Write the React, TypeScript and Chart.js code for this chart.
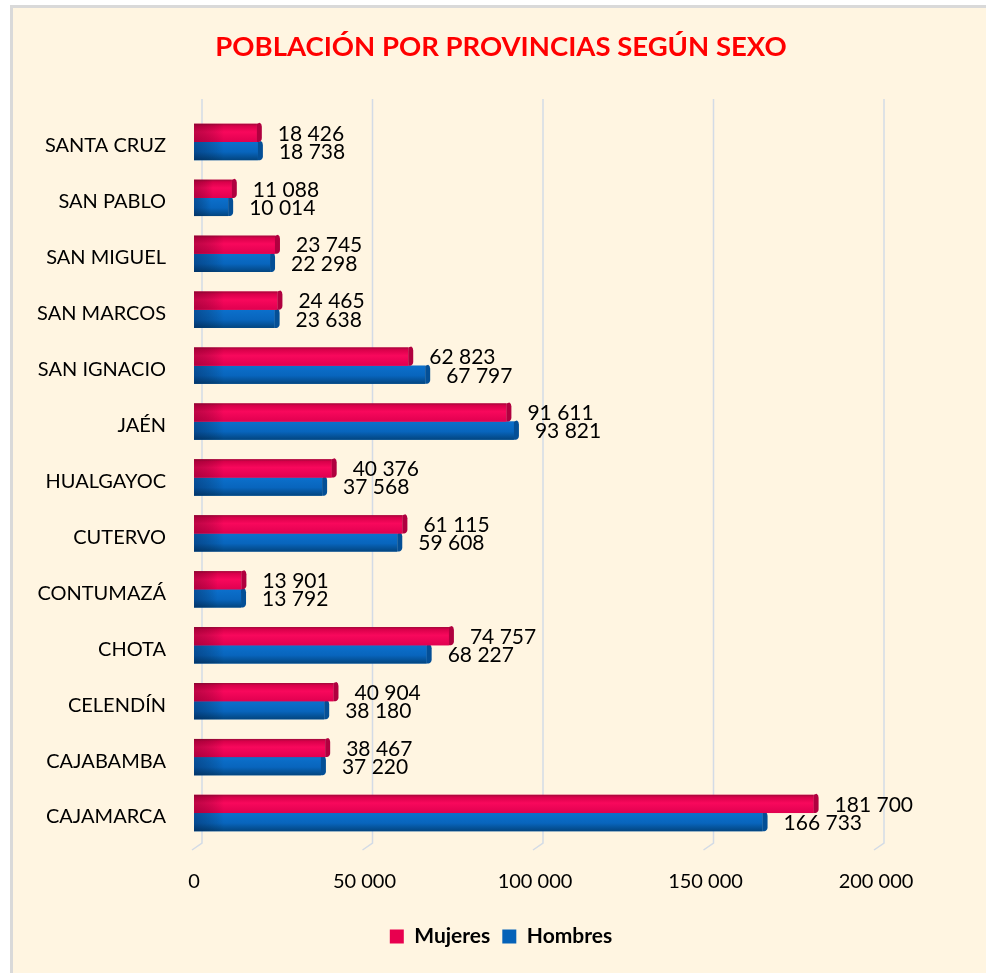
import React, { useEffect, useRef } from "react";
import { Chart, registerables } from "chart.js";

Chart.register(...registerables);

const provinces = [
  "SANTA CRUZ",
  "SAN PABLO",
  "SAN MIGUEL",
  "SAN MARCOS",
  "SAN IGNACIO",
  "JAÉN",
  "HUALGAYOC",
  "CUTERVO",
  "CONTUMAZÁ",
  "CHOTA",
  "CELENDÍN",
  "CAJABAMBA",
  "CAJAMARCA",
];
const mujeres = [18426, 11088, 23745, 24465, 62823, 91611, 40376, 61115, 13901, 74757, 40904, 38467, 181700];
const hombres = [18738, 10014, 22298, 23638, 67797, 93821, 37568, 59608, 13792, 68227, 38180, 37220, 166733];
const xTicks = [0, 50000, 100000, 150000, 200000];
const seriesNames = ["Mujeres", "Hombres"];
const titleText = "POBLACIÓN POR PROVINCIAS SEGÚN SEXO";

const FONT = "Lato, 'Open Sans', sans-serif";

const fmt = (v: number) => String(Math.round(v)).replace(/\B(?=(\d{3})+(?!\d))/g, " ");

const backGrid = {
  id: "backGrid",
  beforeDatasetsDraw(chart: any) {
    const { ctx, chartArea } = chart;
    const xs = chart.scales.x;
    ctx.save();
    ctx.strokeStyle = "#d3dbe6";
    ctx.lineWidth = 1.5;
    xTicks.forEach((v) => {
      const px = xs.getPixelForValue(v) + 8;
      ctx.beginPath();
      ctx.moveTo(px, chartArea.top - 15);
      ctx.lineTo(px, chartArea.bottom + 2);
      ctx.lineTo(px - 10, chartArea.bottom + 9);
      ctx.stroke();
    });
    ctx.restore();
  },
};

const bars3d = {
  id: "bars3d",
  afterDatasetDraw(chart: any, args: any) {
    const { ctx } = chart;
    const kind = args.index;
    ctx.save();
    args.meta.data.forEach((el: any) => {
      const p = el.getProps(["x", "y", "base", "height"], true);
      const left = Math.min(p.base, p.x);
      const right = Math.max(p.base, p.x);
      const top = p.y - p.height / 2;
      const bottom = p.y + p.height / 2;
      const h = bottom - top;
      const g = ctx.createLinearGradient(0, top, 0, bottom);
      if (kind === 0) {
        g.addColorStop(0, "#9e0a3a");
        g.addColorStop(0.12, "#d8004a");
        g.addColorStop(0.45, "#f8085c");
        g.addColorStop(1, "#e00050");
      } else {
        g.addColorStop(0, "#0c70cc");
        g.addColorStop(0.55, "#0865bd");
        g.addColorStop(1, "#03457f");
      }
      ctx.fillStyle = g;
      ctx.fillRect(left, top, right - left, h);
      const w = Math.min(30, (right - left) / 2);
      const lg = ctx.createLinearGradient(left, 0, left + w, 0);
      lg.addColorStop(0, kind === 0 ? "rgba(90,0,30,0.35)" : "rgba(0,20,60,0.35)");
      lg.addColorStop(1, "rgba(0,0,0,0)");
      ctx.fillStyle = lg;
      ctx.fillRect(left, top, w, h);
      // side face of the 3D bar
      ctx.fillStyle = kind === 0 ? "#b0003f" : "#044f96";
      ctx.beginPath();
      ctx.moveTo(right, top);
      ctx.lineTo(right + 3, top - 1);
      ctx.quadraticCurveTo(right + 5, top, right + 5, top + 3);
      ctx.lineTo(right + 5, bottom - 4);
      ctx.quadraticCurveTo(right + 5, bottom - 1, right + 2, bottom);
      ctx.lineTo(right, bottom);
      ctx.closePath();
      ctx.fill();
    });
    ctx.restore();
  },
};

const valueLabels = {
  id: "valueLabels",
  afterDatasetsDraw(chart: any) {
    const { ctx } = chart;
    ctx.save();
    ctx.font = `21px ${FONT}`;
    ctx.fillStyle = "#000";
    ctx.textAlign = "left";
    ctx.textBaseline = "middle";
    chart.data.datasets.forEach((ds: any, i: number) => {
      const meta = chart.getDatasetMeta(i);
      meta.data.forEach((el: any, j: number) => {
        const p = el.getProps(["x", "y"], true);
        ctx.fillText(fmt(ds.data[j]), p.x + 21, p.y + 1);
      });
    });
    ctx.restore();
  },
};

export default function App() {
  const ref = useRef<HTMLCanvasElement | null>(null);
  useEffect(() => {
    if (!ref.current) return;
    const chart = new Chart(ref.current, {
      type: "bar",
      data: {
        labels: provinces,
        datasets: [
          { label: seriesNames[0], data: mujeres, backgroundColor: "#e8004f", borderWidth: 0 },
          { label: seriesNames[1], data: hombres, backgroundColor: "#0562b8", borderWidth: 0 },
        ],
      },
      options: {
        indexAxis: "y",
        animation: false,
        responsive: false,
        maintainAspectRatio: false,
        datasets: { bar: { categoryPercentage: 0.65, barPercentage: 1 } },
        layout: { padding: { left: 16, right: 0, top: 0, bottom: 16 } },
        scales: {
          x: {
            type: "linear",
            min: 0,
            max: 200000,
            afterBuildTicks: (s: any) => {
              s.ticks = xTicks.map((v) => ({ value: v }));
            },
            afterFit: (s: any) => {
              s.height = 73;
            },
            grid: { display: false, drawTicks: false },
            border: { display: false },
            ticks: {
              padding: 29,
              color: "#000",
              font: { family: FONT, size: 20 },
              callback: (v: any) => fmt(Number(v)),
            },
          },
          y: {
            afterFit: (s: any) => {
              s.width = 178;
            },
            grid: { display: false, drawTicks: false },
            border: { display: false },
            ticks: { padding: 28, labelOffset: 4, color: "#000", font: { family: FONT, size: 20 } },
          },
          y2: {
            type: "category",
            position: "right",
            afterFit: (s: any) => {
              s.width = 110;
            },
            grid: { display: false, drawTicks: false },
            border: { display: false },
            ticks: { display: false },
          },
        },
        plugins: {
          title: {
            display: true,
            text: titleText,
            color: "#ff0000",
            font: { family: FONT, size: 27.5, weight: "bold", lineHeight: 1.2 },
            padding: { top: 31, bottom: 50 },
          },
          legend: {
            position: "bottom",
            labels: {
              color: "#000",
              boxWidth: 14,
              boxHeight: 14,
              padding: 12,
              font: { family: FONT, size: 21, weight: "bold" },
            },
          },
          tooltip: { enabled: false },
        },
      },
      plugins: [backGrid, bars3d, valueLabels],
    } as any);
    return () => chart.destroy();
  }, []);

  return (
    <div style={{ position: "absolute", left: 0, top: 0, width: 986, height: 973, background: "#ffffff", overflow: "hidden" }}>
      <div
        style={{
          position: "absolute",
          left: 10,
          top: 5,
          right: 0,
          bottom: 0,
          background: "#fff5e1",
          borderLeft: "3px solid #d9d9d9",
          borderTop: "3px solid #d9d9d9",
        }}
      />
      <canvas ref={ref} width={986} height={973} style={{ position: "absolute", left: 0, top: 0, width: 986, height: 973 }} />
    </div>
  );
}
